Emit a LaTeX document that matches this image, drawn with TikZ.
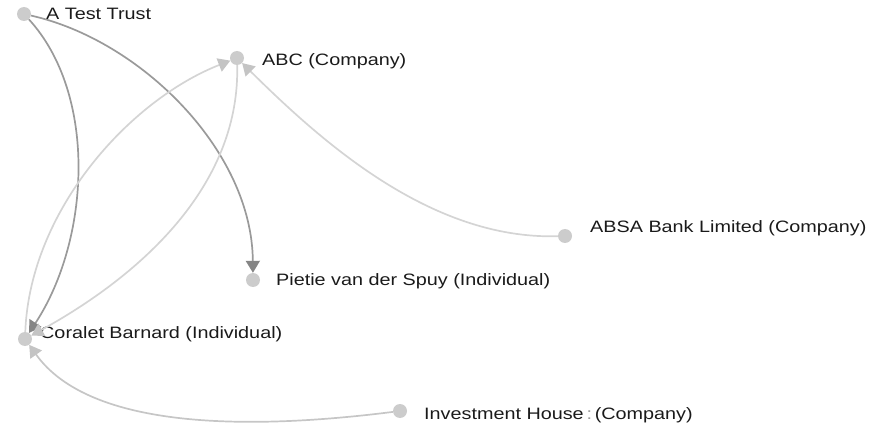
\documentclass[tikz,border=0pt]{standalone}
\usepackage{fontspec}
\setmainfont{Liberation Sans}[FakeStretch=1.2]
\usetikzlibrary{arrows.meta}
\definecolor{dotgray}{HTML}{CCCCCC}
\definecolor{darkedge}{HTML}{9A9A9A}
\definecolor{darktip}{HTML}{858585}
\definecolor{lightedge}{HTML}{D4D4D4}
\definecolor{lighttip}{HTML}{C4C4C4}
\definecolor{midedge}{HTML}{C6C6C6}
\definecolor{colongray}{HTML}{9A9A9A}
\definecolor{labeltext}{HTML}{1A1A1A}
\tikzset{
  dot/.style={circle, fill=dotgray, inner sep=0pt, minimum size=14pt},
  lbl/.style={anchor=base west, inner sep=0pt, text=labeltext, font=\fontsize{16.5}{19}\selectfont},
  darklink/.style={draw=darkedge, line width=1.7pt, -{Triangle[length=12pt,width=14pt,fill=darktip,color=darktip]}},
  lightlink/.style={draw=lightedge, line width=1.7pt, -{Triangle[length=12pt,width=14pt,fill=lighttip,color=lighttip]}},
  midlink/.style={draw=midedge, line width=1.7pt, -{Triangle[length=12pt,width=14pt,fill=lighttip,color=lighttip]}}
}
\begin{document}
\begin{tikzpicture}[x=1pt,y=-1pt]
\useasboundingbox (0,0) rectangle (871,425);
% dots
\node[dot] (att) at (24,14) {};
\node[dot] (abc) at (237,58) {};
\node[dot] (absa) at (565,236) {};
\node[dot] (pvs) at (253,280) {};
\node[dot] (cb) at (25,339) {};
\node[dot] (ih) at (400,411) {};
% labels
\node[lbl] (lattt) at (46,20) {A Test Trust};
\node[lbl] (labc) at (262,66) {ABC (Company)};
\node[lbl] (labsa) at (590,233) {ABSA Bank Limited (Company)};
\node[lbl] (lpvs) at (276,285) {Pietie van der Spuy (Individual)};
\node[lbl] (lcb) at (40,338) {Coralet Barnard (Individual)};
\node[lbl] (lih) at (424,419) {Investment House\,{\color{colongray}:}\,(Company)};
% edges
\draw[darklink] (att) .. controls (140,40) and (252,150) .. (pvs);
\draw[darklink] (att) .. controls (98,95) and (90,240) .. (cb);
\draw[lightlink] (cb) .. controls (30,210) and (130,100) .. (abc);
\draw[lightlink] (abc) .. controls (240,180) and (150,270) .. (cb);
\draw[lightlink] (absa) .. controls (430,240) and (320,140) .. (abc);
\draw[midlink] (ih) .. controls (250,430) and (90,430) .. (cb);
\end{tikzpicture}
\end{document}
